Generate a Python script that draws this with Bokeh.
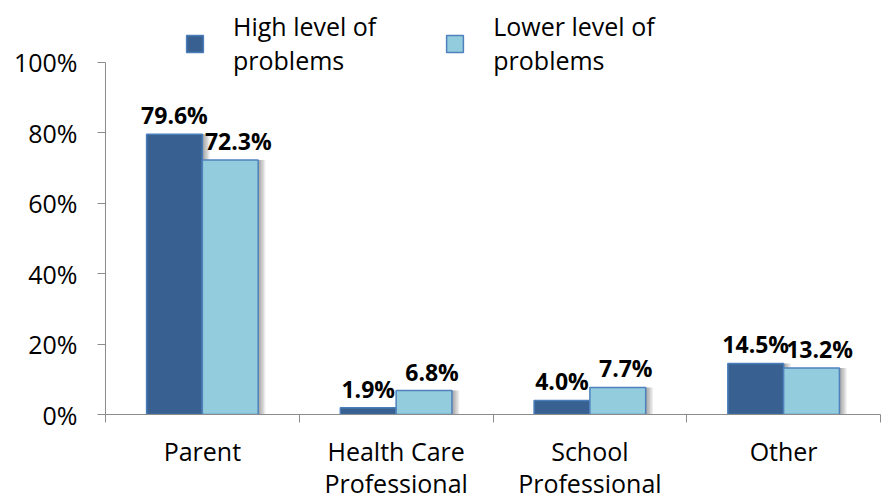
from bokeh.plotting import figure
from bokeh.models import (ColumnDataSource, FixedTicker, Legend, LegendItem,
                          Range1d, PrintfTickFormatter)
from bokeh.transform import dodge
from bokeh.core.properties import value
from bokeh.embed import file_html
from bokeh.resources import INLINE
import numpy as np

# ---- data ----
categories = ["Parent", "Health Care\nProfessional", "School\nProfessional", "Other"]
high = [79.6, 1.9, 4.0, 14.5]
lower = [72.3, 6.8, 7.7, 13.2]
series_names = ["High level of\nproblems", "Lower level of\nproblems"]
y_ticks = [0, 20, 40, 60, 80, 100]

FONT = "Open Sans"
DARK_FILL, DARK_LINE = "#386090", "#4A7EBB"
LIGHT_FILL, LIGHT_LINE = "#93CDDD", "#4F81BD"
AXIS_COLOR = "#8C8C8C"

xc = np.arange(len(categories)) + 0.5
src = ColumnDataSource(dict(
    x=xc,
    high=high,
    lower=lower,
    high_lbl=[f"{v:.1f}%" for v in high],
    lower_lbl=[f"{v:.1f}%" for v in lower],
))

# frame spans canvas y 4..415; 100% sits at y=62 (353 px for 100 units)
TOP_PAD = 4
Y_MAX = 100 * (415 - TOP_PAD) / 353.0

p = figure(width=885, height=502, x_range=Range1d(0, len(categories)),
           y_range=Range1d(0, Y_MAX), output_backend="svg", toolbar_location=None,
           min_border_left=105, min_border_right=5, min_border_top=TOP_PAD,
           min_border_bottom=87)
p.outline_line_color = None
p.xgrid.visible = False
p.ygrid.visible = False

bw = 0.288
# soft shadows (to the right of each bar)
for k in range(1, 6):
    off = k * 0.0075
    p.vbar(x=dodge("x", -bw / 2 + off, range=p.x_range), top="high", width=bw,
           source=src, fill_color="black", fill_alpha=0.08, line_color=None)
    p.vbar(x=dodge("x", bw / 2 + off, range=p.x_range), top="lower", width=bw,
           source=src, fill_color="black", fill_alpha=0.08, line_color=None)

r_high = p.vbar(x=dodge("x", -bw / 2, range=p.x_range), top="high", width=bw,
                source=src, fill_color=DARK_FILL, line_color=DARK_LINE, line_width=1.5)
r_low = p.vbar(x=dodge("x", bw / 2, range=p.x_range), top="lower", width=bw,
               source=src, fill_color=LIGHT_FILL, line_color=LIGHT_LINE, line_width=1.5)

p.text(x=dodge("x", -bw / 2, range=p.x_range), y="high", text="high_lbl", source=src,
       text_font=value(FONT), text_font_style="bold", text_font_size="23px",
       text_align="center", text_baseline="alphabetic", y_offset=-19,
       text_color="black")
p.text(x=dodge("x", bw / 2, range=p.x_range), y="lower", text="lower_lbl", source=src,
       text_font=value(FONT), text_font_style="bold", text_font_size="23px",
       text_align="center", text_baseline="alphabetic", y_offset=-19, x_offset=8,
       text_color="black")

# x axis: labels at centres, separator ticks at boundaries
xa = p.xaxis[0]
xa.ticker = FixedTicker(ticks=list(xc), minor_ticks=list(range(len(categories) + 1)))
xa.major_label_overrides = {float(v): c for v, c in zip(xc, categories)}
xa.major_tick_line_color = None
xa.major_tick_out = 0
xa.major_tick_in = 0
xa.minor_tick_line_color = AXIS_COLOR
xa.minor_tick_out = 8
xa.minor_tick_in = 0
xa.axis_line_color = AXIS_COLOR
xa.major_label_text_font = FONT
xa.major_label_text_font_size = "25px"
xa.major_label_text_color = "black"
xa.major_label_text_line_height = 0.95
xa.major_label_standoff = 11

ya = p.yaxis[0]
ya.ticker = FixedTicker(ticks=y_ticks)
ya.formatter = PrintfTickFormatter(format="%d%%")
ya.bounds = (0, 100)
ya.major_tick_out = 8
ya.major_tick_in = 0
ya.minor_tick_line_color = None
ya.axis_line_color = AXIS_COLOR
ya.major_tick_line_color = AXIS_COLOR
ya.major_label_text_font = FONT
ya.major_label_text_font_size = "25px"
ya.major_label_text_color = "black"
ya.major_label_standoff = 20

legend = Legend(items=[LegendItem(label=series_names[0], renderers=[r_high]),
                       LegendItem(label=series_names[1], renderers=[r_low])],
                location=(79, 337), orientation="horizontal",
                padding=0, margin=0, border_line_color=None,
                background_fill_alpha=0, glyph_width=21, glyph_height=21,
                label_standoff=28, spacing=68,
                label_text_font=FONT, label_text_font_size="25px",
                label_text_line_height=1.12, label_text_color="black")
p.add_layout(legend)

open("out.html", "w").write(file_html(p, INLINE))
